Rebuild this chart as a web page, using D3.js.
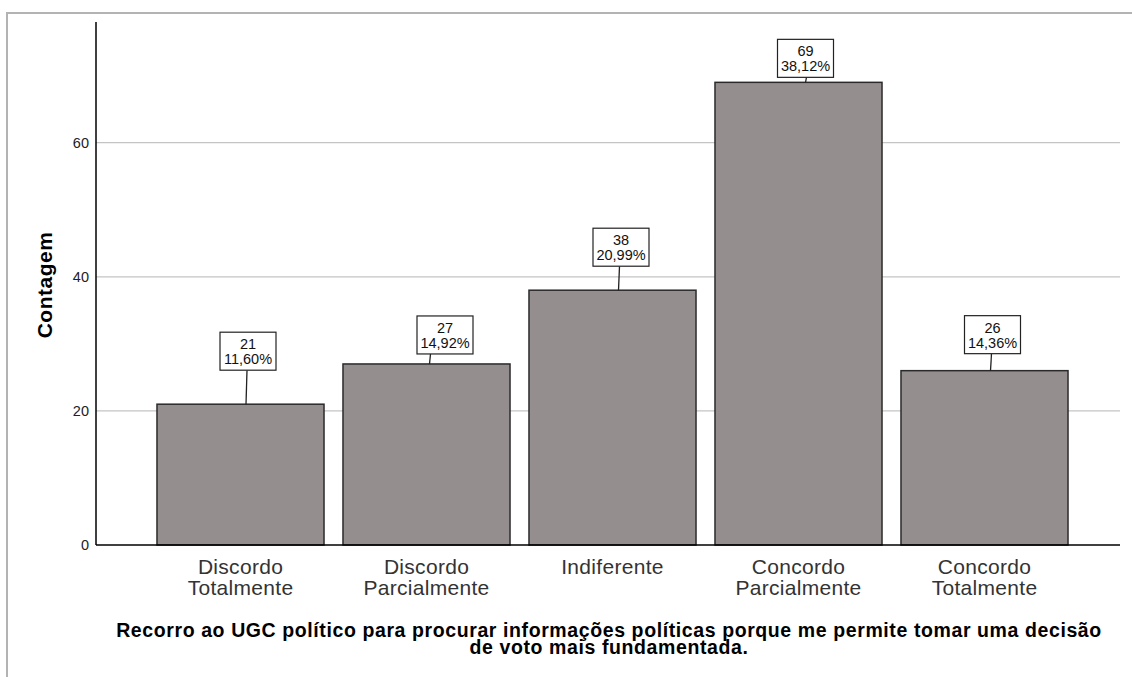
<!DOCTYPE html>
<html>
<head>
<meta charset="utf-8">
<script src="https://cdn.jsdelivr.net/npm/d3@7"></script>
<style>
  body { margin: 0; background: #fff; }
  svg { display: block; font-family: "Liberation Sans", Arial, sans-serif; }
</style>
</head>
<body>
<script>
//chart values
var categories = [
    ['Discordo', 'Totalmente'],
    ['Discordo', 'Parcialmente'],
    ['Indiferente'],
    ['Concordo', 'Parcialmente'],
    ['Concordo', 'Totalmente']
];
var counts = [21, 27, 38, 69, 26];
var percents = ['11,60%', '14,92%', '20,99%', '38,12%', '14,36%'];
var yTicks = [0, 20, 40, 60];

//label placement (gap above bar, box shift, line shift)
var labelGap = [34, 10, 24, 5, 17];
var boxShift = [7.5, 18.5, 8.5, 7, 8];
var lineShift = [6.5, 4, 7, 8, 7];

var width = 1132,
    height = 677;

var svg = d3.select('body')
    .append('svg')
    .attr('width', width)
    .attr('height', height);

//outer frame
svg.append('path')
    .attr('d', 'M7,' + height + 'V13H' + width)
    .attr('fill', 'none')
    .attr('stroke', '#b3b3b3')
    .attr('stroke-width', 2);

var x = d3.scaleBand()
    .domain(d3.range(counts.length))
    .range([147.5, 1077.5])
    .paddingInner(0.102)
    .paddingOuter(0.051);

var y = d3.scaleLinear()
    .domain([0, 78])
    .range([545, 22]);

var left = 96, right = 1120;

//gridlines
svg.selectAll('.grid')
    .data(yTicks.filter(function(d){ return d > 0; }))
    .enter()
    .append('line')
    .attr('class', 'grid')
    .attr('x1', left)
    .attr('x2', right)
    .attr('y1', function(d){ return y(d); })
    .attr('y2', function(d){ return y(d); })
    .attr('stroke', '#c4c4c4')
    .attr('stroke-width', 1.2);

//bars
svg.selectAll('.bar')
    .data(counts)
    .enter()
    .append('rect')
    .attr('class', 'bar')
    .attr('x', function(d, i){ return x(i); })
    .attr('y', function(d){ return y(d); })
    .attr('width', x.bandwidth())
    .attr('height', function(d){ return y(0) - y(d); })
    .attr('fill', '#948f8e')
    .attr('stroke', '#2a2a2a')
    .attr('stroke-width', 1.5);

//axes
var yAxis = svg.append('g')
    .attr('transform', 'translate(' + left + ',0)')
    .call(d3.axisLeft(y).tickValues(yTicks).tickSize(0).tickPadding(7));
yAxis.select('.domain').remove();
yAxis.selectAll('text')
    .attr('font-size', '14.5px')
    .attr('font-family', '"Liberation Sans", Arial, sans-serif')
    .attr('fill', '#222');

svg.append('line')
    .attr('x1', left).attr('x2', left)
    .attr('y1', y.range()[1]).attr('y2', y(0))
    .attr('stroke', '#000').attr('stroke-width', 1.5);
svg.append('line')
    .attr('x1', left).attr('x2', right)
    .attr('y1', y(0)).attr('y2', y(0))
    .attr('stroke', '#000').attr('stroke-width', 1.5);

//category labels
var cat = svg.selectAll('.cat')
    .data(categories)
    .enter()
    .append('text')
    .attr('class', 'cat')
    .attr('text-anchor', 'middle')
    .attr('font-size', '21px')
    .attr('letter-spacing', '0.3px')
    .attr('fill', '#333')
    .attr('transform', function(d, i){
        return 'translate(' + (x(i) + x.bandwidth() / 2) + ',574)';
    });
cat.selectAll('tspan')
    .data(function(d){ return d; })
    .enter()
    .append('tspan')
    .attr('x', 0)
    .attr('y', function(d, j){ return j * 21; })
    .text(function(d){ return d; });

//value labels
var boxW = 56, boxH = 38;
var labels = svg.selectAll('.lab')
    .data(counts)
    .enter()
    .append('g')
    .attr('class', 'lab');

labels.append('line')
    .attr('x1', function(d, i){ return x(i) + x.bandwidth() / 2 + lineShift[i]; })
    .attr('x2', function(d, i){ return x(i) + x.bandwidth() / 2 + lineShift[i] - 1; })
    .attr('y1', function(d, i){ return y(d) - labelGap[i]; })
    .attr('y2', function(d){ return y(d); })
    .attr('stroke', '#222')
    .attr('stroke-width', 1.3);

labels.append('rect')
    .attr('x', function(d, i){ return x(i) + x.bandwidth() / 2 + boxShift[i] - boxW / 2; })
    .attr('y', function(d, i){ return y(d) - labelGap[i] - boxH; })
    .attr('width', boxW)
    .attr('height', boxH)
    .attr('fill', '#fff')
    .attr('stroke', '#222')
    .attr('stroke-width', 1.2);

labels.append('text')
    .attr('text-anchor', 'middle')
    .attr('font-size', '14.5px')
    .attr('fill', '#111')
    .attr('x', function(d, i){ return x(i) + x.bandwidth() / 2 + boxShift[i]; })
    .attr('y', function(d, i){ return y(d) - labelGap[i] - boxH + 17; })
    .text(function(d){ return d; });

labels.append('text')
    .attr('text-anchor', 'middle')
    .attr('font-size', '14.5px')
    .attr('fill', '#111')
    .attr('x', function(d, i){ return x(i) + x.bandwidth() / 2 + boxShift[i]; })
    .attr('y', function(d, i){ return y(d) - labelGap[i] - boxH + 32; })
    .text(function(d, i){ return percents[i]; });

//axis titles
svg.append('text')
    .attr('transform', 'translate(52,285) rotate(-90)')
    .attr('text-anchor', 'middle')
    .attr('font-size', '21px')
    .attr('letter-spacing', '0.5px')
    .attr('font-weight', 'bold')
    .attr('fill', '#000')
    .text('Contagem');

var title = svg.append('text')
    .attr('text-anchor', 'middle')
    .attr('font-size', '19.5px')
    .attr('letter-spacing', '0.6px')
    .attr('font-weight', 'bold')
    .attr('fill', '#000');
title.append('tspan')
    .attr('x', 609).attr('y', 637)
    .text('Recorro ao UGC político para procurar informações políticas porque me permite tomar uma decisão');
title.append('tspan')
    .attr('x', 609).attr('y', 654)
    .text('de voto mais fundamentada.');
</script>
</body>
</html>
